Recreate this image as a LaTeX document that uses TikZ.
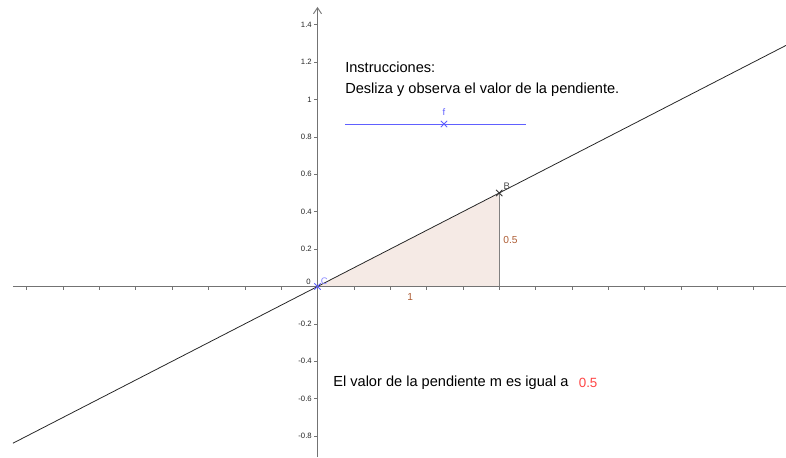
\documentclass[tikz,border=0pt]{standalone}
\usepackage{fontspec}
\setmainfont{Liberation Sans}
\usetikzlibrary{arrows.meta,positioning,shapes.misc}
\definecolor{sliderblue}{RGB}{96,96,255}
\definecolor{slopebrown}{RGB}{153,51,0}
\definecolor{valuered}{RGB}{255,68,68}

\begin{document}
\begin{tikzpicture}[
    x=3.634cm, y=3.74cm,
    every node/.style={font=\fontsize{8.3}{10}\selectfont},
    axis/.style={draw=black!55, line width=0.5pt},
    ticklbl/.style={font=\fontsize{4.4}{5}\selectfont, inner sep=0.6pt, text=black!85},
    ptmark/.style={cross out, draw, minimum size=3.2pt, inner sep=0pt, line width=0.45pt},
    ptlabel/.style={font=\fontsize{5.4}{6}\selectfont, inner sep=0.5pt},
    sidelabel/.style={font=\fontsize{5.8}{6.5}\selectfont, text=slopebrown!80, inner sep=0.5pt},
    info/.style={anchor=west, inner sep=0pt}
]
\useasboundingbox (-1.7474,-0.9118) rectangle (2.5784,1.5321);

% ejes
\coordinate (O) at (0,0);
\coordinate (xL) at (-1.676,0);
\coordinate (xR) at (2.5784,0);
\coordinate (yB) at (0,-0.9118);
\coordinate (yT) at (0,1.4947);

% triangulo de la pendiente
\coordinate (Bx) at (1,0);
\fill[slopebrown, opacity=0.1] (O) -- (Bx) -- (1,0.5) -- cycle;
\draw[black!50, line width=0.5pt] (Bx) -- (1,0.5);

\draw[axis] (xL) -- (xR);
\draw[axis, -{Straight Barb[length=1.2mm, width=1.6mm]}] (yB) -- (yT);
\foreach \t in {-1.6,-1.4,...,2.5}
    \draw[axis, line width=0.35pt] (\t,0) -- (\t,-0.02);
\foreach \t in {-0.8,-0.6,-0.4,-0.2,0.2,0.4,0.6,0.8,1,1.2,1.4} {
    \draw[axis, line width=0.35pt] (0,\t) -- (-0.022,\t);
    \node[ticklbl, anchor=east] at (-0.024,\t) {\t};
}
\node[ticklbl, anchor=south east] (zero) at (-0.03,0.005) {0};

% recta
\coordinate (lineL) at (-1.676,-0.838);
\coordinate (lineR) at (2.5784,1.2892);
\draw[black!85, line width=0.45pt] (lineL) -- (lineR);

% puntos
\node[ptmark, draw=sliderblue] (C) at (O) {};
\node[ptlabel, text=sliderblue!75, anchor=south west] (Clbl) at (0.012,0.005) {C};
\node[ptmark, draw=black!80] (B) at (1,0.5) {};
\node[ptlabel, text=black!70, anchor=south west] (Blbl) at (1.018,0.512) {B};

\node[sidelabel, anchor=north] (run) at (0.51,-0.03) {1};
\node[sidelabel, anchor=west] (rise) at (1.016,0.249) {0.5};

% deslizador
\coordinate (sL) at (0.151,0.869);
\coordinate (sR) at (1.1475,0.869);
\draw[sliderblue, line width=0.5pt] (sL) -- (sR);
\node[ptmark, draw=sliderblue] (f) at (0.696,0.869) {};
\node[ptlabel, text=sliderblue, above=2.2pt of f] (flbl) {f};

% textos
\node[info] (instr) at (0.151,1.174) {Instrucciones:};
\node[info, below=5.4pt of instr.south west, anchor=north west] (desliza) {Desliza y observa el valor de la pendiente.};
\node[info] (valor) at (0.0853,-0.516) {El valor de la pendiente m es igual a};
\node[info, right=5.5pt of valor, font=\fontsize{7.6}{9}\selectfont, text=valuered] (m) {0.5};
\end{tikzpicture}
\end{document}
